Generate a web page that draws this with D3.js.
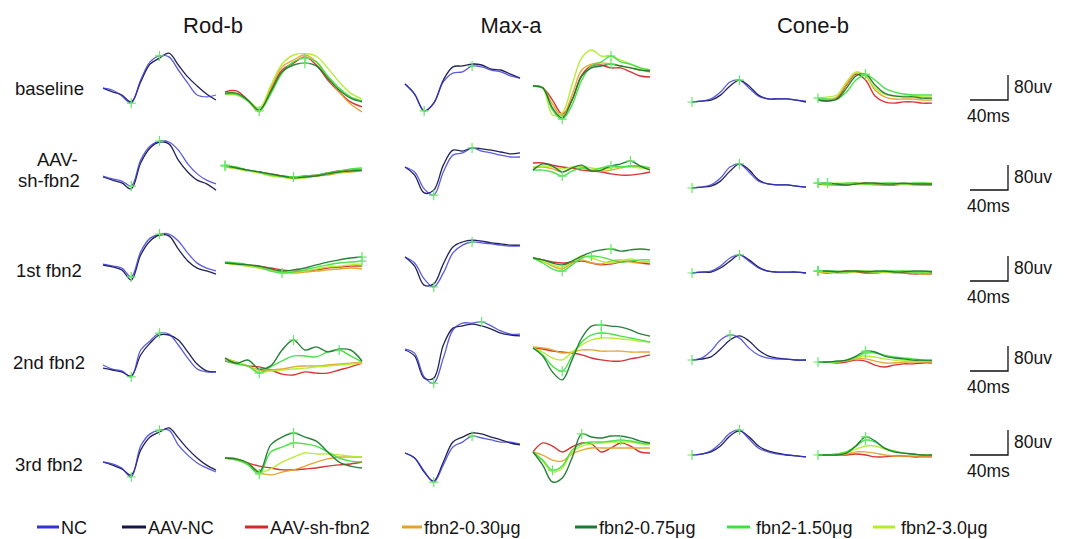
<!DOCTYPE html>
<html><head><meta charset="utf-8">
<script src="https://cdn.jsdelivr.net/npm/d3@7"></script>
<style>
body{margin:0;background:#fff}
svg{display:block}
text{font-family:"Liberation Sans",Arial,sans-serif;fill:#151515}
</style>
</head><body>
<svg id="c" width="1070" height="539"></svg>
<script>
// ---------- labels ----------
const columns = ["Rod-b", "Max-a", "Cone-b"];
const rowLabels = [["baseline"], ["AAV-", "sh-fbn2"], ["1st fbn2"], ["2nd fbn2"], ["3rd fbn2"]];
const seriesNames = ["NC", "AAV-NC", "AAV-sh-fbn2", "fbn2-0.30μg", "fbn2-0.75μg", "fbn2-1.50μg", "fbn2-3.0μg"];
const scaleBarUv = 80, scaleBarMs = 40;

// ---------- data (µV, evenly spaced samples) ----------
// control panels: [NC, AAV-NC]; treated panels: [AAV-sh-fbn2, 0.30, 0.75, 1.50, 3.0]
const rod_r1_ctrl = [
 [6,0,-19,-42,32,90,109,106,64,22,-16,-22,-16],
 [6,-6,-16,-38,26,83,102,118,80,42,13,-13,-32]];
const rod_r1_trt = [
 [-6,-3,-32,-67,0,64,86,106,80,32,-6,-38,-54],
 [-10,-13,-35,-70,6,74,96,112,90,38,-6,-45,-70],
 [-10,-10,-32,-64,-6,58,80,86,77,38,0,-26,-38],
 [-13,-13,-35,-67,-13,54,90,102,90,45,6,-22,-35],
 [-13,-16,-32,-58,13,83,112,116,108,70,26,-10,-29]];
const max_r1_ctrl = [
 [3,-29,-83,-58,10,38,42,61,58,48,42,29,22],
 [3,-29,-83,-58,16,58,61,67,64,51,48,35,22]];
const max_r1_trt = [
 [0,-6,-45,-90,-45,35,64,67,58,58,45,32,29],
 [0,-6,-58,-96,-29,51,70,74,70,64,58,51,45],
 [0,-6,-70,-102,-45,32,58,64,70,64,58,51,48],
 [0,-6,-77,-106,-61,19,64,77,96,77,70,58,51],
 [0,-6,-93,-86,3,90,115,96,96,83,70,58,51]];
const cone_r1_ctrl = [
 [0,3,10,32,64,70,45,19,10,10,10,6,3],
 [0,3,6,22,51,70,51,22,10,10,10,6,0]];
const cone_r1_trt = [
 [0,-3,6,48,83,64,13,-6,-10,-6,-6,-10,-10],
 [3,0,10,51,86,77,32,10,3,3,3,0,0],
 [0,-3,3,38,77,83,48,22,13,10,10,6,6],
 [6,3,3,26,64,80,64,38,26,19,16,16,16],
 [6,10,16,58,90,77,38,19,13,13,13,10,10]];

const rod_r2_ctrl = [
 [3,-6,-13,-29,54,99,115,112,86,42,10,-10,-22],
 [0,-10,-19,-38,45,93,112,106,54,16,-10,-22,-42]];
const rod_r2_trt = [
 [0,-3,-10,-16,-22,-29,-32,-29,-26,-19,-13,-10,-10],
 [0,-3,-10,-19,-26,-32,-35,-32,-29,-26,-19,-16,-13],
 [3,-3,-10,-16,-22,-29,-35,-32,-29,-22,-16,-13,-10],
 [6,0,-10,-16,-26,-29,-32,-29,-26,-19,-13,-6,-3],
 [0,-6,-13,-19,-29,-32,-38,-35,-29,-22,-19,-13,-10]];
const max_r2_ctrl = [
 [0,-16,-70,-90,-16,38,45,61,51,45,38,32,32],
 [0,-26,-83,-74,6,54,51,61,58,54,48,42,45]];
const max_r2_trt = [
 [13,13,6,0,-3,-10,-13,-16,-22,-26,-26,-22,-16],
 [-3,0,-6,-16,-3,0,-10,-13,-10,-3,3,0,-6],
 [-10,10,3,-16,-3,6,-13,-10,3,10,19,3,-10],
 [-10,-10,-16,-29,-13,-3,-10,-3,3,0,3,3,-3],
 [0,3,0,-6,0,3,-3,-6,-3,0,0,-3,-6]];
const cone_r2_ctrl = [
 [0,3,10,32,67,77,51,22,13,10,10,6,3],
 [0,3,6,22,54,77,58,26,13,10,10,6,3]];
const cone_r2_trt = [
 [0,0,-3,-3,0,3,0,-3,-3,0,0,-3,-3],
 [0,-3,-3,0,3,0,-3,-3,0,0,-3,-3,-3],
 [0,3,0,-3,0,3,3,0,0,3,0,0,0],
 [3,0,0,3,3,0,0,3,3,0,3,3,0],
 [0,0,3,0,0,0,3,0,0,0,0,3,3]];

const rod_r3_ctrl = [
 [3,-3,-10,-38,42,86,99,99,77,38,6,-10,-19],
 [0,-6,-16,-48,32,77,96,93,51,13,-10,-19,-29]];
const rod_r3_trt = [
 [0,-3,-6,-10,-16,-22,-26,-26,-22,-16,-13,-10,-10],
 [0,-3,-10,-16,-22,-29,-32,-29,-26,-22,-19,-16,-19],
 [0,-3,-6,-10,-19,-26,-22,-16,-6,3,10,16,19],
 [3,0,-6,-13,-26,-32,-29,-22,-13,-6,0,3,6],
 [0,-6,-10,-16,-22,-26,-29,-26,-19,-13,-10,-6,-3]];
const max_r3_ctrl = [
 [0,-19,-70,-96,-51,13,38,48,45,42,38,35,35],
 [0,-29,-90,-86,-22,32,48,54,51,45,42,38,38]];
const max_r3_trt = [
 [0,-6,-13,-16,-13,-10,-16,-22,-19,-13,-10,-16,-19],
 [0,-10,-26,-35,-16,-6,-16,-19,-10,-6,-13,-16,-10],
 [0,-6,-16,-22,-10,6,19,26,29,22,26,29,26],
 [0,-16,-35,-42,-22,0,6,3,-6,-13,-10,-6,-6],
 [0,-10,-22,-29,-10,6,0,-10,-16,-10,-3,-10,-13]];
const cone_r3_ctrl = [
 [0,3,6,22,48,58,38,16,6,3,3,3,0],
 [0,3,3,16,38,58,42,19,6,3,3,3,0]];
const cone_r3_trt = [
 [0,-3,0,3,0,-3,-3,0,0,-3,-6,-6,-6],
 [0,0,-3,-3,3,0,-3,0,-3,-3,-3,-6,-6],
 [3,3,0,3,3,0,3,3,0,0,3,3,0],
 [3,3,3,0,3,3,0,3,3,3,0,0,3],
 [0,0,0,0,0,3,0,0,0,3,0,0,0]];

const rod_r4_ctrl = [
 [0,-13,-19,-38,48,77,102,99,64,22,-13,-22,-22],
 [-10,-16,-22,-35,32,70,96,96,80,42,3,-19,-22]];
const rod_r4_trt = [
 [-3,-10,-19,-22,-32,-45,-48,-38,-42,-42,-32,-22,-10],
 [6,-6,-19,-32,-32,-29,-22,-19,-19,-16,-13,-10,-6],
 [6,-10,0,-29,-19,32,64,32,42,26,35,32,-3],
 [-3,-13,-19,-42,-22,-3,13,13,10,26,32,13,-6],
 [3,-6,-19,-38,-35,-32,-29,-26,-22,-19,-16,-13,-10]];
const max_r4_ctrl = [
 [3,-10,-86,-106,-26,64,86,86,90,77,61,51,51],
 [0,-19,-90,-90,16,70,77,83,77,67,54,48,45]];
const max_r4_trt = [
 [0,-3,-10,-13,-16,-22,-32,-38,-42,-42,-35,-29,-22],
 [3,0,-6,-16,-13,-6,-6,-10,-10,-10,-13,-13,-13],
 [0,-26,-77,-102,-38,32,70,74,70,67,58,45,38],
 [0,-22,-58,-74,-26,19,42,48,45,38,32,26,19],
 [0,-13,-32,-38,-13,10,26,32,32,29,26,22,19]];
const cone_r4_ctrl = [
 [0,6,29,64,80,70,38,16,6,3,3,0,0],
 [0,3,10,35,64,77,61,32,13,6,3,0,0]];
const cone_r4_trt = [
 [0,0,-3,0,6,3,-10,-16,-10,-6,-6,-3,-3],
 [0,0,0,3,10,10,3,-3,-3,0,0,0,0],
 [0,0,3,6,19,35,32,19,13,10,6,6,6],
 [0,0,0,6,16,29,29,22,16,13,10,6,3],
 [0,0,0,6,13,19,16,10,6,6,3,3,3]];

const rod_r5_ctrl = [
 [0,-6,-19,-48,51,90,102,102,54,22,-3,-19,-32],
 [0,-10,-22,-42,38,80,96,109,77,42,13,-10,-26]];
const rod_r5_trt = [
 [0,-6,-16,-26,-32,-38,-38,-35,-32,-26,-22,-19,-13],
 [0,-3,-16,-45,-54,-45,-38,-26,-13,-3,3,3,3],
 [0,-3,-16,-45,42,67,80,67,54,19,-13,-26,-32],
 [0,-6,-22,-51,19,35,48,45,38,19,0,-10,-13],
 [0,-6,-19,-45,-35,-13,3,16,13,13,10,6,3]];
const max_r5_ctrl = [
 [0,-16,-58,-93,-38,19,35,54,48,42,35,35,29],
 [0,-16,-61,-90,-29,35,51,64,61,51,42,32,26]];
const max_r5_trt = [
 [0,29,19,0,16,29,26,0,13,29,19,0,-3],
 [0,-10,-26,-29,-6,6,13,13,13,13,13,13,13],
 [0,-42,-96,-83,-19,58,48,45,51,51,45,35,29],
 [0,-26,-58,-45,6,26,32,32,35,38,35,29,26],
 [0,-29,-64,-51,0,19,26,29,32,32,32,26,22]];
const cone_r5_ctrl = [
 [0,3,13,38,70,80,51,22,10,3,0,-3,-6],
 [0,3,10,29,61,77,58,29,13,6,0,-3,-6]];
const cone_r5_trt = [
 [0,0,0,0,3,0,-6,-6,-3,-3,-6,-6,-6],
 [0,0,0,3,10,10,6,0,-3,-3,-3,-3,-3],
 [0,0,0,6,29,58,45,22,10,6,3,0,0],
 [0,0,3,10,29,48,42,22,13,6,3,0,0],
 [0,0,3,10,19,29,29,19,10,6,3,0,0]];

// ---------- layout & style ----------
const seriesColors = ["#3333d6", "#16164e", "#d42a2a", "#e3a32a", "#1e7a32", "#3fe03f", "#b4ec2c"];
const markColor = "#66e866";
const panelX = [[103,216],[225,362],[405,520],[533,650],[692,806],[818,932]];
const baseY = [
 [90, 90, 85, 86, 102, 100],
 [177, 167, 167, 167, 188, 184],
 [265, 263, 257, 258, 273, 272],
 [365, 360, 350, 348, 360, 362],
 [462, 458, 453, 452, 455, 455]];
const barBottom = [100, 190, 281, 371, 455];
const labelY = [[95], [166, 187], [277], [369], [471]];
const labelX = [[15], [37, 18], [16], [13], [15]];

const panels = [
 [rod_r1_ctrl, rod_r1_trt, max_r1_ctrl, max_r1_trt, cone_r1_ctrl, cone_r1_trt],
 [rod_r2_ctrl, rod_r2_trt, max_r2_ctrl, max_r2_trt, cone_r2_ctrl, cone_r2_trt],
 [rod_r3_ctrl, rod_r3_trt, max_r3_ctrl, max_r3_trt, cone_r3_ctrl, cone_r3_trt],
 [rod_r4_ctrl, rod_r4_trt, max_r4_ctrl, max_r4_trt, cone_r4_ctrl, cone_r4_trt],
 [rod_r5_ctrl, rod_r5_trt, max_r5_ctrl, max_r5_trt, cone_r5_ctrl, cone_r5_trt]];

const svg = d3.select("#c");
const uv = d3.scaleLinear().domain([0, 80]).range([0, 25]);
const ms = d3.scaleLinear().domain([0, 40]).range([0, 38]);

// titles
const titleX = [213, 511, 813];
columns.forEach((c, i) => svg.append("text").attr("x", titleX[i]).attr("y", 33)
  .attr("text-anchor", "middle").attr("font-size", 22).text(c));

// row labels
rowLabels.forEach((lines, r) => lines.forEach((t, k) =>
  svg.append("text").attr("x", labelX[r][k]).attr("y", labelY[r][k]).attr("font-size", 18.5).text(t)));

function cross(g, cx, cy) {
  g.append("path").attr("d", `M${cx-4.5},${cy}H${cx+4.5}M${cx},${cy-5}V${cy+5}`)
   .attr("stroke", markColor).attr("stroke-width", 1.2).attr("fill", "none");
}
const argmax = a => a.indexOf(d3.max(a));
const argmin = a => a.indexOf(d3.min(a));

panels.forEach((row, r) => {
  row.forEach((curves, p) => {
    const n = curves[0].length;
    const x = d3.scaleLinear().domain([0, n - 1]).range(panelX[p]);
    const y = d3.scaleLinear().domain([0, 80]).range([baseY[r][p], baseY[r][p] - uv(80)]);
    const line = d3.line().x((d, i) => x(i)).y(d => y(d)).curve(d3.curveCatmullRom.alpha(0.5));
    const ctrl = p % 2 === 0;
    const g = svg.append("g");
    const offset = ctrl ? 0 : 2;
    const order = ctrl ? [1, 0] : [0, 1, 4, 3, 2];
    order.forEach(k => {
      g.append("path").attr("d", line(curves[k])).attr("fill", "none")
       .attr("stroke", seriesColors[k + offset]).attr("stroke-width", ctrl ? 1.3 : 1.4)
       .attr("stroke-opacity", ctrl && k === 0 ? 0.8 : 0.95);
    });
    const cone = p >= 4;
    if (ctrl) {
      const c = curves[0];
      const i0 = cone ? 0 : argmin(c), i1 = argmax(c);
      cross(g, x(i0), y(c[i0]));
      cross(g, x(i1), y(c[i1]));
    } else {
      const gr = curves[3], dg = curves[2];
      cross(g, x(argmax(gr)), y(d3.max(gr)));
      cross(g, x(argmax(dg)), y(d3.max(dg)));
      const im = cone ? 0 : argmin(gr);
      cross(g, x(im), y(gr[im]));
    }
  });
});

// scale bars
barBottom.forEach(b => {
  const xr = 1008;
  svg.append("path").attr("d", `M${xr - ms(scaleBarMs)},${b}H${xr}V${b - uv(scaleBarUv)}`)
    .attr("fill", "none").attr("stroke", "#111").attr("stroke-width", 1.3);
  svg.append("text").attr("x", xr + 6).attr("y", b - 7).attr("font-size", 17.5).text(scaleBarUv + "uv");
  svg.append("text").attr("x", 967).attr("y", b + 22).attr("font-size", 17.5).text(scaleBarMs + "ms");
});

// legend
const legX = [37, 122, 245, 402, 575, 727, 873];
const legLen = [22, 24, 23, 20, 22, 23, 22];
seriesNames.forEach((s, i) => {
  svg.append("line").attr("x1", legX[i]).attr("x2", legX[i] + legLen[i]).attr("y1", 527).attr("y2", 527)
    .attr("stroke", seriesColors[i]).attr("stroke-width", 3);
  svg.append("text").attr("x", legX[i] + legLen[i] + (i >= 5 ? 6 : 2)).attr("y", 533.5)
    .attr("font-size", 18).text(s);
});
</script>
</body></html>
